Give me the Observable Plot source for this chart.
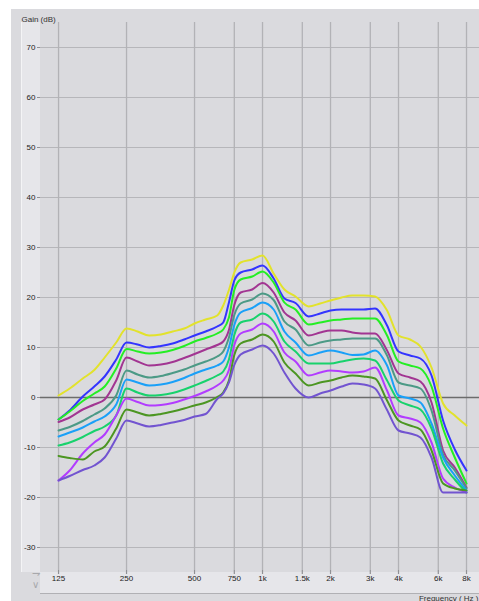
<!DOCTYPE html>
<html><head><meta charset="utf-8">
<script src="https://cdn.jsdelivr.net/npm/d3@7"></script>
<script src="https://cdn.jsdelivr.net/npm/@observablehq/plot@0.6"></script>
<style>
body{margin:0;background:#fff;}
#wrap{position:relative;width:479px;height:601px;overflow:hidden;background:#fff;}
.bg{position:absolute;box-sizing:border-box;}
#wrap svg{position:absolute;left:0;top:0;}
</style></head><body>
<div id="wrap">
 <div class="bg" style="left:11px;top:9px;width:468px;height:592px;background:#dadade"></div>
 <div class="bg" style="left:21px;top:22px;width:19px;height:550px;background:#e6e6ea;border-left:1px solid #f4f4f6"></div>
 <div class="bg" style="left:40px;top:572px;width:439px;height:22px;background:#e6e6ea;border-bottom:1px solid #b0b0b4"></div>
</div>
<script>
// Frequencies (Hz) at which the curves were read
const freqs = [125,140,160,180,200,225,250,280,315,355,400,450,500,560,630,670,710,750,800,900,1000,1120,1250,1400,1600,1800,2000,2240,2500,2800,3150,3550,4000,4500,5000,5600,6300,7100,8000];

// Gain values (dB), one array per curve, top to bottom
const yellowCurve  = [0.4,1.8,3.8,5.5,8.0,11.0,13.8,13.2,12.4,12.6,13.2,13.8,14.8,15.6,16.4,18.4,21.5,25.0,27.0,27.6,28.4,24.8,21.6,20.2,18.2,18.8,19.4,20.0,20.4,20.4,20.2,17.5,12.4,11.6,10.2,6.0,-1.2,-3.6,-5.6];
const blueCurve    = [-4.4,-2.6,0.2,2.2,4.2,7.6,11.0,10.6,10.0,10.3,10.8,11.6,12.4,13.2,14.2,15.0,19.0,23.4,25.0,25.6,26.4,23.8,19.8,18.9,16.2,16.8,17.4,17.6,17.6,17.6,17.8,14.5,9.2,8.4,7.8,4.4,-4.6,-10.4,-14.6];
const greenCurve   = [-4.4,-2.8,-0.7,0.8,2.2,5.8,9.7,9.2,8.8,9.0,9.5,10.3,11.2,11.9,12.8,13.6,16.0,21.5,23.6,24.2,25.2,23.0,19.0,17.6,14.6,15.0,15.4,15.6,15.8,15.8,15.8,12.5,7.2,6.4,5.8,2.2,-6.2,-12.0,-17.2];
const magentaCurve = [-4.9,-4.0,-2.4,-1.4,-0.4,3.4,8.0,7.2,6.4,6.6,7.1,7.9,8.7,9.6,10.5,11.2,13.5,18.5,21.0,21.6,22.9,21.0,17.0,15.4,12.4,13.0,13.4,13.4,13.0,12.8,12.8,9.5,4.8,4.0,3.2,-1.0,-10.6,-14.0,-18.0];
const tealCurve    = [-6.6,-5.9,-4.7,-3.4,-2.2,0.4,5.4,4.6,4.0,4.3,4.9,5.6,6.4,7.2,8.2,9.2,12.0,16.5,18.8,19.6,20.8,19.5,15.2,13.6,10.4,11.0,11.4,11.6,11.8,11.8,11.8,8.5,3.0,2.4,1.8,-2.6,-11.4,-14.6,-18.2];
const skyCurve     = [-7.8,-7.0,-6.0,-4.8,-3.8,-1.4,3.6,3.0,2.4,2.6,3.1,3.9,4.8,5.6,6.4,7.2,10.0,14.5,17.0,17.9,19.0,17.6,13.2,11.0,8.4,9.0,9.4,9.0,8.5,8.6,9.4,6.5,0.4,-0.2,-1.0,-5.2,-12.0,-15.6,-18.6];
const mintCurve    = [-9.6,-9.0,-7.9,-6.7,-5.8,-3.6,1.8,1.0,0.4,0.5,0.9,1.6,2.4,3.3,4.4,5.2,7.6,12.5,15.0,15.6,16.8,15.2,11.2,9.2,6.8,6.8,6.8,7.2,7.6,7.8,7.4,3.5,-0.6,-1.6,-2.4,-6.2,-13.2,-16.4,-19.0];
const violetCurve  = [-16.6,-14.6,-11.2,-9.0,-7.4,-3.6,-0.2,-0.9,-1.6,-1.5,-1.1,-0.4,0.3,1.2,2.4,3.4,5.5,10.5,12.8,13.6,14.8,13.2,9.0,7.2,4.4,5.0,5.4,5.2,5.0,5.2,6.0,1.5,-3.6,-4.2,-5.0,-9.0,-16.2,-18.0,-19.0];
const oliveCurve   = [-11.7,-12.1,-12.4,-10.8,-9.8,-6.2,-2.4,-3.0,-3.6,-3.3,-2.8,-2.2,-1.6,-1.0,0.1,1.0,3.4,8.5,10.8,11.6,12.6,11.2,7.0,4.8,2.4,3.0,3.4,4.0,4.4,4.2,3.8,-0.5,-4.6,-5.6,-6.4,-10.6,-17.2,-18.2,-18.6];
const slateCurve   = [-16.6,-15.7,-14.5,-13.6,-12.0,-8.2,-4.6,-5.2,-5.8,-5.5,-5.0,-4.5,-3.8,-3.3,-0.3,0.8,3.0,6.5,8.6,9.6,10.4,8.8,5.0,1.8,0.0,0.8,1.4,2.2,2.8,2.6,1.8,-2.4,-6.6,-7.2,-8.0,-12.0,-19.0,-19.0,-19.0];

const curveNames  = ["yellow","blue","green","magenta","teal","sky","mint","violet","olive","slate"];
const curveColors = ["#e2e22c","#3434ff","#24ee24","#a23592","#4c9a86","#1aa0f8","#18d26c","#b23cff","#4c9622","#7254d0"];
const curveValues = [yellowCurve,blueCurve,greenCurve,magentaCurve,tealCurve,skyCurve,mintCurve,violetCurve,oliveCurve,slateCurve];

// Axis ticks
const yTicks = [-30,-20,-10,0,10,20,30,40,50,60,70];
const xTicks = [125,250,500,750,1000,1500,2000,3000,4000,6000,8000];
const xTickLabels = ["125","250","500","750","1k","1.5k","2k","3k","4k","6k","8k"];

const rows = [];
curveValues.forEach((vals, k) => vals.forEach((v, i) => rows.push({f: freqs[i], g: v, name: curveNames[k]})));
const xTickRows = xTicks.map((f, i) => ({f, label: xTickLabels[i]}));

const font = "'Liberation Sans Narrow','Arial Narrow','Liberation Sans',Arial,sans-serif";

const plot = Plot.plot({
  width: 479, height: 601,
  marginLeft: 40, marginRight: 0, marginTop: 22, marginBottom: 31,
  style: {background: "transparent", fontFamily: font, fontSize: "8px", color: "#222"},
  x: {type: "log", domain: [104.0, 9133], axis: null},
  y: {domain: [-34.6, 75]},
  color: {domain: curveNames, range: curveColors},
  marks: [
    Plot.gridY(yTicks, {stroke: "#b6b6ba", strokeOpacity: 1}),
    Plot.gridX(xTicks, {stroke: "#b2b2b6", strokeOpacity: 1, strokeWidth: 1.3}),
    Plot.ruleY([0], {stroke: "#6c6c6c", strokeWidth: 1.3}),
    Plot.axisY(yTicks, {tickSize: 3, tickPadding: 2, label: null, tickFormat: d => String(d), stroke: "#909094"}),
    Plot.axisX(xTicks, {tickSize: 4, tickFormat: () => "", label: null, stroke: "#909094", strokeWidth: 1.2}),
    Plot.text(xTickRows, {x: "f", text: "label", frameAnchor: "bottom", dy: 10, fill: "#222"}),
    Plot.line(rows, {x: "f", y: "g", z: "name", stroke: "name", strokeWidth: 2, curve: "monotone-x"}),
    Plot.text(["Gain (dB)"], {text: d => d, frameAnchor: "top-left", dx: -19, dy: -6, textAnchor: "start", fill: "#333"}),
    Plot.text(["Frequency ( Hz )"], {text: d => d, frameAnchor: "bottom-right", dx: -1, dy: 30, textAnchor: "end", fill: "#333"}),
    Plot.text(["\u21C1"], {text: d => d, frameAnchor: "bottom-left", dx: -9, dy: 6, fill: "#a8a8ac", fontSize: 10}),
    Plot.text(["\u2228"], {text: d => d, frameAnchor: "bottom-left", dx: -9, dy: 17, fill: "#a8a8ac", fontSize: 10})
  ]
});
document.getElementById("wrap").appendChild(plot);
</script>
</body></html>
